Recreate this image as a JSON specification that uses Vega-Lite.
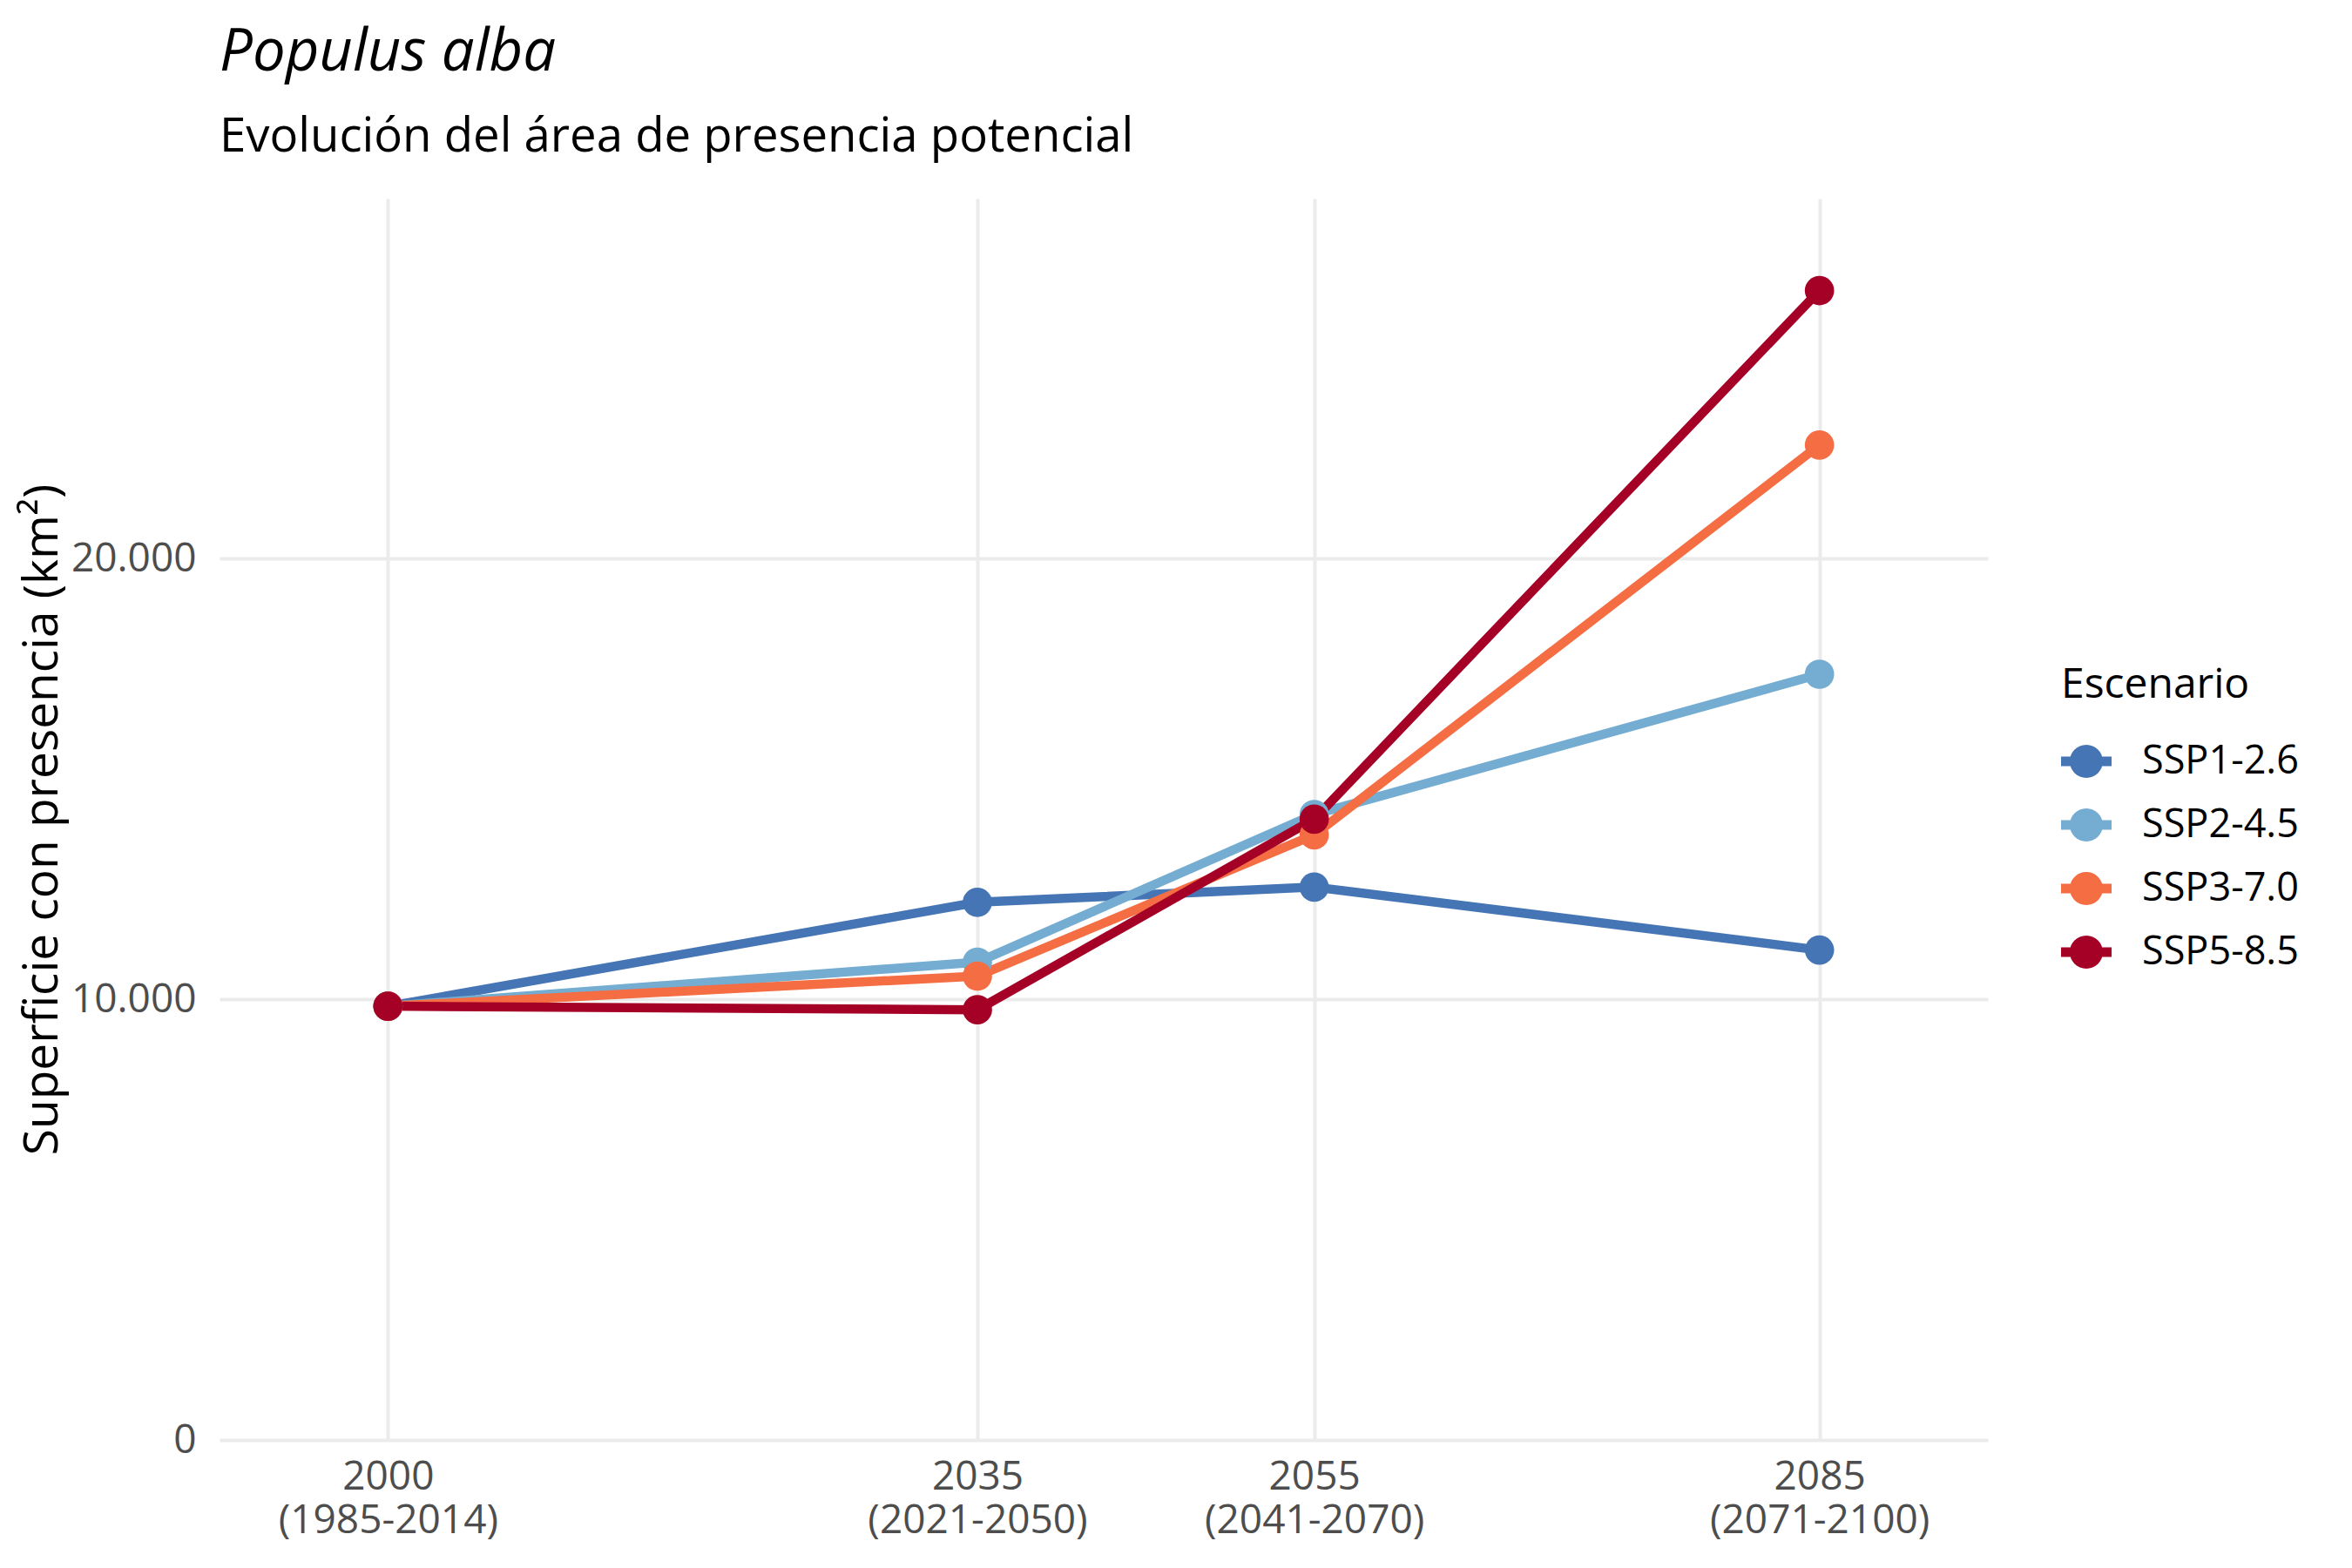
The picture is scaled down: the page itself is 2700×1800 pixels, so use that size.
{
  "$schema": "https://vega.github.io/schema/vega-lite/v6.json",
  "width": 2030,
  "height": 1425,
  "autosize": {"type": "none"},
  "padding": {"left": 252, "top": 228, "right": 418, "bottom": 147},
  "background": "white",
  "title": {
    "text": "Populus alba",
    "subtitle": "Evolución del área de presencia potencial",
    "anchor": "start",
    "frame": "group",
    "font": "Open Sans",
    "fontStyle": "italic",
    "fontWeight": "normal",
    "fontSize": 67,
    "color": "black",
    "subtitleFont": "Open Sans",
    "subtitleFontSize": 54.5,
    "subtitleColor": "black",
    "subtitlePadding": 36,
    "offset": 43
  },
  "config": {
    "view": {"stroke": null},
    "font": "Open Sans",
    "axis": {
      "domain": false,
      "ticks": false,
      "grid": true,
      "gridColor": "#ebebeb",
      "gridWidth": 4,
      "labelFont": "Open Sans",
      "labelColor": "#4d4d4d",
      "labelFontSize": 46,
      "labelLimit": 0,
      "titleFont": "Open Sans",
      "titleFontWeight": "normal",
      "titleColor": "black",
      "titleFontSize": 55
    }
  },
  "data": {
    "values": [
      {"anio": 2000, "escenario": "SSP1-2.6", "superficie": 9840},
      {"anio": 2035, "escenario": "SSP1-2.6", "superficie": 12198},
      {"anio": 2055, "escenario": "SSP1-2.6", "superficie": 12543},
      {"anio": 2085, "escenario": "SSP1-2.6", "superficie": 11115},
      {"anio": 2000, "escenario": "SSP2-4.5", "superficie": 9840},
      {"anio": 2035, "escenario": "SSP2-4.5", "superficie": 10840},
      {"anio": 2055, "escenario": "SSP2-4.5", "superficie": 14190},
      {"anio": 2085, "escenario": "SSP2-4.5", "superficie": 17372},
      {"anio": 2000, "escenario": "SSP3-7.0", "superficie": 9840},
      {"anio": 2035, "escenario": "SSP3-7.0", "superficie": 10524},
      {"anio": 2055, "escenario": "SSP3-7.0", "superficie": 13729},
      {"anio": 2085, "escenario": "SSP3-7.0", "superficie": 22573},
      {"anio": 2000, "escenario": "SSP5-8.5", "superficie": 9840},
      {"anio": 2035, "escenario": "SSP5-8.5", "superficie": 9760},
      {"anio": 2055, "escenario": "SSP5-8.5", "superficie": 14084},
      {"anio": 2085, "escenario": "SSP5-8.5", "superficie": 26077}
    ]
  },
  "encoding": {
    "x": {
      "field": "anio",
      "type": "quantitative",
      "scale": {"domain": [1990, 2095], "nice": false, "zero": false},
      "axis": {
        "title": null,
        "values": [2000, 2035, 2055, 2085],
        "labelPadding": 20,
        "labelLineHeight": 50,
        "labelExpr": "datum.value == 2000 ? ['2000', '(1985-2014)'] : datum.value == 2035 ? ['2035', '(2021-2050)'] : datum.value == 2055 ? ['2055', '(2041-2070)'] : ['2085', '(2071-2100)']"
      }
    },
    "y": {
      "field": "superficie",
      "type": "quantitative",
      "scale": {"domain": [0, 28163], "nice": false},
      "axis": {
        "title": "Superficie con presencia (km²)",
        "values": [0, 10000, 20000],
        "labelPadding": 27,
        "titlePadding": 4,
        "labelExpr": "replace(format(datum.value, ','), ',', '.')"
      }
    },
    "color": {
      "field": "escenario",
      "type": "nominal",
      "scale": {
        "domain": ["SSP1-2.6", "SSP2-4.5", "SSP3-7.0", "SSP5-8.5"],
        "range": ["#4575b4", "#74add1", "#f46d43", "#a50026"]
      },
      "legend": {
        "title": "Escenario",
        "orient": "none",
        "legendX": 2114,
        "legendY": 535,
        "symbolType": "M -1 -0.19 L 1 -0.19 L 1 0.19 L -1 0.19 Z M 0.655 0 A 0.655 0.655 0 1 1 -0.655 0 A 0.655 0.655 0 1 1 0.655 0 Z",
        "symbolSize": 3364,
        "symbolStrokeWidth": 0,
        "symbolOpacity": 1,
        "titleFont": "Open Sans",
        "titleFontWeight": "normal",
        "titleFontSize": 48,
        "titleColor": "black",
        "titleLimit": 0,
        "titlePadding": 34,
        "labelFont": "Open Sans",
        "labelFontSize": 45,
        "labelColor": "black",
        "labelLimit": 0,
        "labelOffset": 35,
        "rowPadding": 21
      }
    }
  },
  "layer": [
    {
      "mark": {"type": "line", "strokeWidth": 10.5}
    },
    {
      "mark": {"type": "circle", "size": 1134, "opacity": 1}
    }
  ]
}
